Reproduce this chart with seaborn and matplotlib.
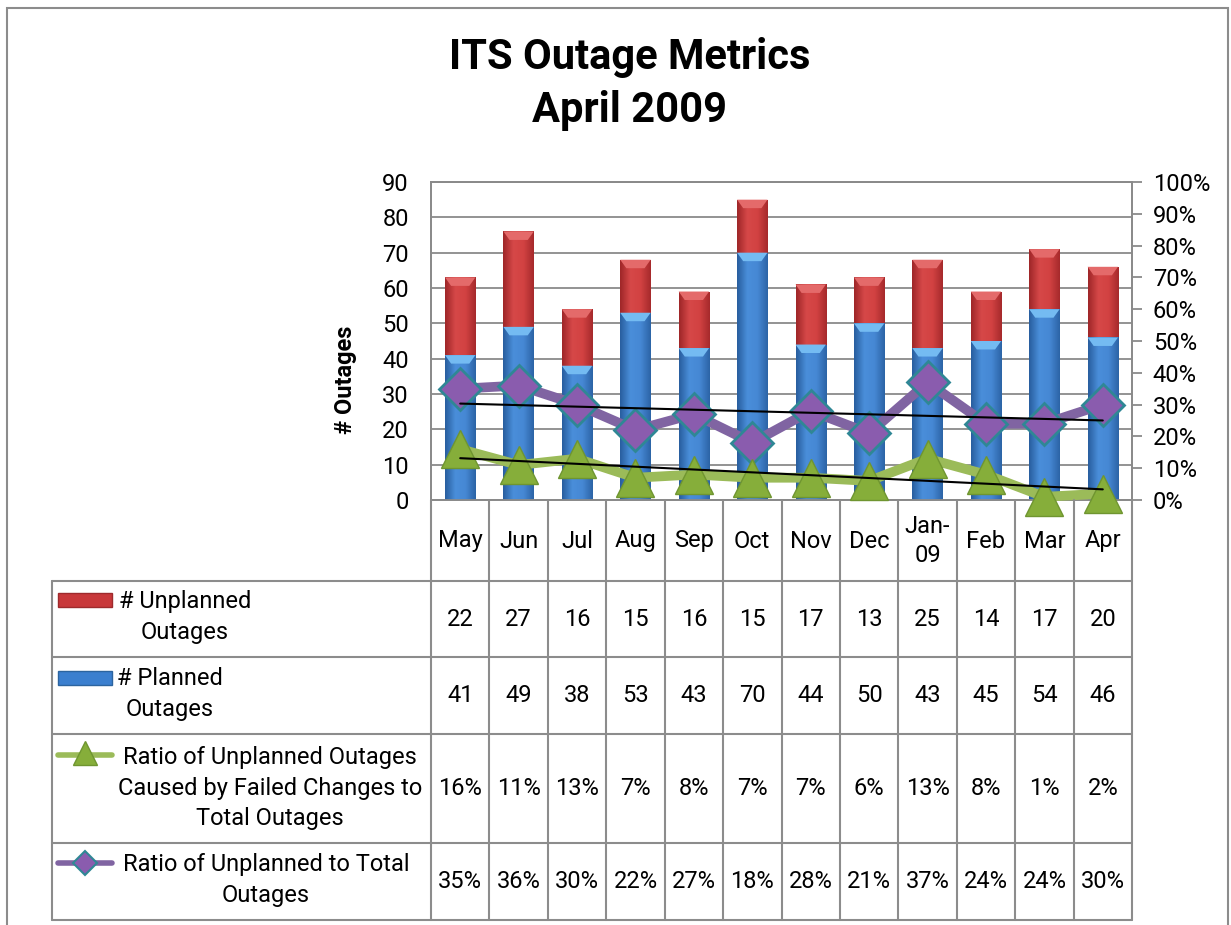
import numpy as np
import pandas as pd
import matplotlib
matplotlib.use("Agg")
import matplotlib.pyplot as plt
import matplotlib.transforms as mtransforms
from matplotlib.lines import Line2D
from matplotlib.patches import Rectangle, Polygon
from matplotlib.colors import LinearSegmentedColormap
import seaborn as sns

# ---------------- data ----------------
months = ["May", "Jun", "Jul", "Aug", "Sep", "Oct", "Nov", "Dec", "Jan-\n09", "Feb", "Mar", "Apr"]
unplanned = [22, 27, 16, 15, 16, 15, 17, 13, 25, 14, 17, 20]
planned = [41, 49, 38, 53, 43, 70, 44, 50, 43, 45, 54, 46]
ratio_failed = [16, 11, 13, 7, 8, 7, 7, 6, 13, 8, 1, 2]          # percent
ratio_unplanned = [35, 36, 30, 22, 27, 18, 28, 21, 37, 24, 24, 30]  # percent
left_ticks = [0, 10, 20, 30, 40, 50, 60, 70, 80, 90]
right_ticks = [0, 10, 20, 30, 40, 50, 60, 70, 80, 90, 100]
row_labels = ["# Unplanned\nOutages", "# Planned\nOutages",
              "Ratio of Unplanned Outages\nCaused by Failed Changes to\nTotal Outages",
              "Ratio of Unplanned to Total\nOutages"]

sns.set_theme(style="white")
plt.rcParams["font.family"] = ["Roboto", "DejaVu Sans"]
plt.rcParams["text.color"] = "black"
plt.rcParams["axes.labelcolor"] = "black"
plt.rcParams["xtick.color"] = "black"
plt.rcParams["ytick.color"] = "black"

RED = "#C8383A"
BLUE = "#3B7FCF"
GREEN_LINE = "#9BBB59"
GREEN_MK = "#86AE3A"
PURPLE_LINE = "#8064A2"
PURPLE_MK = "#8A5CAE"
TEAL = "#2F8795"
GRID = "#8A8A8A"
FS = 17

W, H = 1231, 925
fig = plt.figure(figsize=(W / 100, H / 100), dpi=100)
fig.patch.set_facecolor("white")

def fx(px):
    return px / W

def fy(py):
    return 1 - py / H

# plot area
x0, x1, ytop, ybot = 431, 1132, 182, 500
ax = fig.add_axes([fx(x0), fy(ybot), fx(x1) - fx(x0), fy(ytop) - fy(ybot)])

df = pd.DataFrame({"month": months, "planned": planned, "unplanned": unplanned})
df["total"] = df["planned"] + df["unplanned"]

sns.barplot(data=df, x="month", y="total", color=RED, saturation=1, width=0.52,
            ax=ax, edgecolor="none", linewidth=0, zorder=2)
n_red = len(ax.patches)
sns.barplot(data=df, x="month", y="planned", color=BLUE, saturation=1, width=0.52,
            ax=ax, edgecolor="none", linewidth=0, zorder=3)

# bevel-like shading on each bar (derived from the bar geometry)
cm_red = LinearSegmentedColormap.from_list("r", ["#9E2628", "#D64848", "#D24242", "#A62A2C"])
cm_blue = LinearSegmentedColormap.from_list("b", ["#285E9E", "#4A8EDA", "#4688D4", "#2C64A6"])
grad = np.linspace(0, 1, 64).reshape(1, -1)
for i, p in enumerate(list(ax.patches)):
    bx, by = p.get_x(), p.get_y()
    bw, bh = p.get_width(), p.get_height()
    is_red = i < n_red
    if is_red:
        bottom, top = planned[i], by + bh
        cmap, wedge = cm_red, "#E46A6A"
    else:
        bottom, top = by, by + bh
        cmap, wedge = cm_blue, "#74BBF2"
    z = 2.1 if is_red else 3.1
    im = ax.imshow(grad, extent=[bx, bx + bw, bottom, top], aspect="auto",
                   cmap=cmap, zorder=z, interpolation="bicubic")
    clip = Rectangle((bx, bottom), bw, top - bottom, transform=ax.transData)
    im.set_clip_path(clip)
    dv = 2.4
    ax.add_patch(Polygon([[bx, top], [bx + bw, top], [bx + bw * 0.8, top - dv],
                          [bx + bw * 0.2, top - dv]], closed=True,
                         facecolor=wedge, edgecolor="none", zorder=z + 0.05))

ax.set_xlim(-0.5, len(months) - 0.5)
ax.set_ylim(0, 90)
ax.set_yticks(left_ticks)
ax.set_yticklabels([str(t) for t in left_ticks], fontsize=FS)
ax.set_xticks([])
ax.set_xlabel("")
ax.set_ylabel("# Outages", fontsize=17, fontweight="bold")
ax.yaxis.set_label_coords((357 - x0) / (x1 - x0), (ybot - 380) / (ybot - ytop))
ax.yaxis.grid(True, color=GRID, linewidth=1.3)
ax.set_axisbelow(True)
ax.tick_params(axis="y", direction="out", length=0, pad=16, left=True)
for s in ax.spines.values():
    s.set_color(GRID)
    s.set_linewidth(1.3)

ax2 = ax.twinx()
ax2.set_ylim(0, 100)
ax2.set_yticks(right_ticks)
ax2.set_yticklabels([f"{t}%" for t in right_ticks], fontsize=FS)
ax2.tick_params(axis="y", direction="out", length=7, width=1.3, color=GRID,
                labelcolor="black", pad=8, right=True)
for s in ax2.spines.values():
    s.set_color(GRID)
    s.set_linewidth(1.3)
ax2.grid(False)

xs = np.arange(len(months))
sns.lineplot(x=xs, y=ratio_unplanned, ax=ax2, color=PURPLE_LINE, linewidth=7,
             marker="D", markersize=21, markerfacecolor=PURPLE_MK,
             markeredgecolor=TEAL, markeredgewidth=2, clip_on=False, zorder=4)
sns.lineplot(x=xs, y=ratio_failed, ax=ax2, color=GREEN_LINE, linewidth=7,
             marker="^", markersize=28, markerfacecolor=GREEN_MK,
             markeredgecolor="#6F9530", markeredgewidth=1, clip_on=False, zorder=5)

# linear trendlines
for series in (ratio_unplanned, ratio_failed):
    k, b = np.polyfit(xs, series, 1)
    ax2.plot(xs[[0, -1]], k * xs[[0, -1]] + b, color="black", linewidth=1.5, zorder=6)

# ---------------- title ----------------
fig.text(fx(630), fy(69), "ITS Outage Metrics", ha="center", va="baseline",
         fontsize=30, fontweight="bold")
fig.text(fx(630), fy(122), "April 2009", ha="center", va="baseline",
         fontsize=30, fontweight="bold")

# ---------------- outer border ----------------
fig.add_artist(Rectangle((fx(7), fy(960)), fx(1228) - fx(7), fy(8) - fy(960),
                         transform=fig.transFigure, fill=False,
                         edgecolor="#8C8C8C", linewidth=1.5))

# ---------------- data table ----------------
tr = mtransforms.blended_transform_factory(ax.transData, fig.transFigure)
LC = "#8C8C8C"
LW = 1.5
rows_y = [500, 581, 657, 734, 843, 920]
tab_left = 52

for i in range(len(months) + 1):
    fig.add_artist(Line2D([i - 0.5, i - 0.5], [fy(rows_y[0]), fy(rows_y[-1])],
                          transform=tr, color=LC, linewidth=LW))
fig.add_artist(Line2D([fx(tab_left), fx(tab_left)], [fy(rows_y[1]), fy(rows_y[-1])],
                      transform=fig.transFigure, color=LC, linewidth=LW))
for yy in rows_y[1:]:
    fig.add_artist(Line2D([fx(tab_left), fx(x1)], [fy(yy), fy(yy)],
                          transform=fig.transFigure, color=LC, linewidth=LW))

for i, m in enumerate(months):
    fig.text(i, fy(541), m, transform=tr, ha="center", va="center", fontsize=FS,
             linespacing=1.3)

def pct(v):
    return f"{v}%"

table_rows = [
    [str(v) for v in unplanned],
    [str(v) for v in planned],
    [pct(v) for v in ratio_failed],
    [pct(v) for v in ratio_unplanned],
]
for r, vals in enumerate(table_rows):
    yc = (rows_y[r + 1] + rows_y[r + 2]) / 2
    for i, v in enumerate(vals):
        fig.text(i, fy(yc), v, transform=tr, ha="center", va="center", fontsize=FS)

label_info = [(185, 617), (170, 694), (270, 788), (266, 880)]
for idx, (lx, ly) in enumerate(label_info):
    fig.text(fx(lx), fy(ly), row_labels[idx], ha="center", va="center",
             fontsize=FS, linespacing=1.42, multialignment="center")

key_x0, key_x1, key_xc = 58, 112, 85
for ky, c, ec in ((600, RED, "#9E2A2C"), (678, BLUE, "#2C649F")):
    fig.add_artist(Rectangle((fx(key_x0), fy(ky + 7)), fx(key_x1) - fx(key_x0),
                             fy(ky - 7) - fy(ky + 7), transform=fig.transFigure,
                             facecolor=c, edgecolor=ec, linewidth=1))
fig.add_artist(Line2D([fx(key_x0), fx(key_x1)], [fy(755), fy(755)], transform=fig.transFigure,
                      color=GREEN_LINE, linewidth=4))
fig.add_artist(Line2D([fx(key_xc)], [fy(753)], transform=fig.transFigure, marker="^",
                      markersize=17, markerfacecolor=GREEN_MK, markeredgecolor="#6F9530",
                      linestyle="none"))
fig.add_artist(Line2D([fx(key_x0), fx(key_x1)], [fy(863), fy(863)], transform=fig.transFigure,
                      color=PURPLE_LINE, linewidth=4))
fig.add_artist(Line2D([fx(key_xc)], [fy(863)], transform=fig.transFigure, marker="D",
                      markersize=12, markerfacecolor=PURPLE_MK, markeredgecolor=TEAL,
                      markeredgewidth=1.5, linestyle="none"))

fig.savefig("out.png", dpi=100, facecolor="white")
